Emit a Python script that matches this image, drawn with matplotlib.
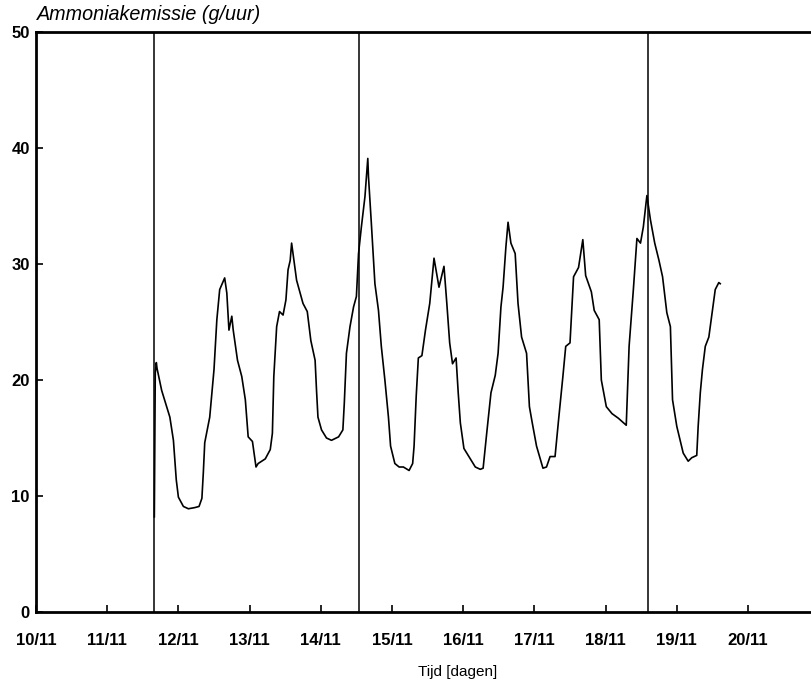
import matplotlib
matplotlib.use("Agg")
import matplotlib.pyplot as plt

# time in days since 10/11 00:00
tijd = [1.662, 1.675, 1.69, 1.70, 1.765, 1.835, 1.88, 1.93, 1.97, 2.00, 2.07, 2.14, 2.23, 2.29,
        2.33, 2.35, 2.37, 2.44, 2.50, 2.54, 2.58, 2.65, 2.68, 2.71, 2.75, 2.77, 2.83, 2.89,
        2.94, 2.98, 3.04, 3.09, 3.12, 3.22, 3.29, 3.32, 3.34, 3.38, 3.42, 3.47, 3.51, 3.54,
        3.57, 3.59, 3.66, 3.75, 3.81, 3.86, 3.92, 3.94, 3.96, 4.01, 4.08, 4.15, 4.25, 4.31,
        4.33, 4.36, 4.41, 4.46, 4.50, 4.53, 4.57, 4.62, 4.66, 4.67, 4.71, 4.76, 4.81, 4.85,
        4.90, 4.95, 4.98, 5.04, 5.10, 5.16, 5.24, 5.29, 5.31, 5.34, 5.37, 5.42, 5.47, 5.53,
        5.59, 5.66, 5.73, 5.77, 5.81, 5.85, 5.90, 5.93, 5.96, 6.01, 6.10, 6.17, 6.24, 6.28,
        6.33, 6.39, 6.45, 6.49, 6.53, 6.56, 6.60, 6.63, 6.67, 6.73, 6.77, 6.82, 6.89, 6.93,
        6.97, 7.03, 7.12, 7.17, 7.22, 7.29, 7.34, 7.40, 7.44, 7.50, 7.55, 7.62, 7.68, 7.72,
        7.80, 7.84, 7.91, 7.94, 8.01, 8.09, 8.18, 8.29, 8.33, 8.39, 8.44, 8.49, 8.53, 8.58,
        8.63, 8.69, 8.75, 8.80, 8.86, 8.91, 8.94, 9.00, 9.09, 9.16, 9.21, 9.28, 9.30, 9.33,
        9.36, 9.40, 9.45, 9.50, 9.54, 9.59, 9.61]
emissie = [8.2, 20.6, 21.5, 21.0, 19.1, 17.7, 16.8, 14.8, 11.4, 9.9, 9.1, 8.9, 9.0, 9.1,
           9.8, 12.0, 14.6, 16.8, 20.9, 25.2, 27.8, 28.8, 27.5, 24.3, 25.5, 24.3, 21.7, 20.3,
           18.3, 15.1, 14.7, 12.5, 12.8, 13.2, 14.0, 15.4, 20.3, 24.6, 25.9, 25.6, 26.9, 29.5,
           30.3, 31.8, 28.6, 26.6, 25.9, 23.4, 21.7, 19.1, 16.8, 15.7, 15.0, 14.8, 15.1, 15.7,
           18.0, 22.3, 24.6, 26.3, 27.2, 30.9, 33.2, 35.8, 39.1, 37.5, 33.5, 28.3, 26.0, 22.9,
           20.0, 16.8, 14.3, 12.8, 12.5, 12.5, 12.2, 12.8, 14.3, 18.6, 21.9, 22.1, 24.3, 26.6,
           30.5, 28.0, 29.8, 26.6, 23.2, 21.4, 21.9, 18.9, 16.3, 14.1, 13.2, 12.5, 12.3, 12.4,
           15.4, 18.9, 20.4, 22.3, 26.3, 28.0, 31.5, 33.6, 31.8, 30.9, 26.6, 23.7, 22.3, 17.7,
           16.3, 14.3, 12.4, 12.5, 13.4, 13.4, 16.6, 20.3, 22.9, 23.2, 28.9, 29.7, 32.1, 29.0,
           27.6, 26.0, 25.2, 20.0, 17.7, 17.1, 16.7, 16.1, 22.9, 27.8, 32.2, 31.8, 33.2, 35.9,
           33.8, 31.8, 30.3, 28.9, 25.8, 24.6, 18.3, 16.0, 13.7, 13.0, 13.3, 13.5, 16.0, 18.9,
           20.9, 22.9, 23.7, 26.0, 27.8, 28.4, 28.3]

# event markers (days since 10/11)
markers = [1.66, 4.53, 8.59]

tick_pos = list(range(0, 11))
tick_labels = ["10/11", "11/11", "12/11", "13/11", "14/11", "15/11",
               "16/11", "17/11", "18/11", "19/11", "20/11"]
y_ticks = [0, 10, 20, 30, 40, 50]

W, H = 812, 686
fig = plt.figure(figsize=(W / 100, H / 100), dpi=100)
x0, y0 = 36, 612
px_day = 71.2
xmax = 11.0
ax = fig.add_axes([x0 / W, (H - y0) / H, xmax * px_day / W, (612 - 32) / H])

ax.plot(tijd, emissie, color="black", lw=1.2)
for m in markers:
    ax.axvline(m, color="black", lw=1.1)

ax.set_xlim(0, xmax)
ax.set_ylim(0, 50)
ax.set_xticks(tick_pos)
ax.set_xticklabels(tick_labels)
ax.set_yticks(y_ticks)
ax.tick_params(direction="in", length=5, width=1.2)
ax.tick_params(axis="x", pad=15)
ax.tick_params(axis="y", pad=4.5)
for lab in ax.get_xticklabels() + ax.get_yticklabels():
    lab.set_family("Liberation Sans")
    lab.set_fontweight("bold")
    lab.set_fontsize(12)
for s in ax.spines.values():
    s.set_linewidth(2)

fig.text(37 / W, 1 - 14 / H, "Ammoniakemissie (g/uur)", family="Liberation Sans",
         style="italic", fontsize=14.2, ha="left", va="center")
fig.text(458 / W, 1 - 672 / H, "Tijd [dagen]", family="Liberation Sans",
         fontsize=11, ha="center", va="center")

fig.savefig("out.png", dpi=100)
